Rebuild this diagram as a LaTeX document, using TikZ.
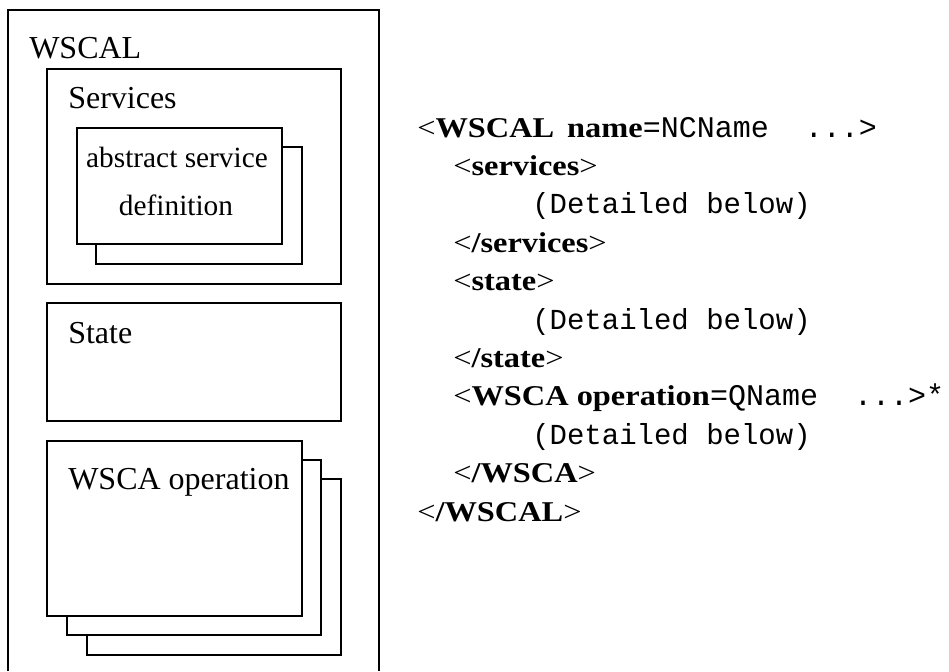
\documentclass[tikz,border=0pt]{standalone}
\usepackage{fontspec}
\setmainfont{Liberation Serif}
\setmonofont{Liberation Mono}
\newfontfamily\codefont[FakeStretch=1.13]{Liberation Serif}
\newcommand\codemono{\fontsize{21.75}{26}\selectfont\ttfamily}
\newcommand\inlinemono{\fontsize{22.5}{26}\selectfont\ttfamily}
\begin{document}
\begin{tikzpicture}[x=0.75pt,y=-0.75pt,
  frame/.style={draw=black,line width=0.9pt,fill=white},
  lbl/.style={anchor=base west,inner sep=0pt,font=\fontsize{24}{28}\selectfont},
  sub/.style={anchor=base,inner sep=0pt,font=\fontsize{22}{26}\selectfont},
  code/.style={anchor=base west,inner sep=0pt,font=\codefont\fontsize{21.5}{26}\selectfont}]
\useasboundingbox (0,0) rectangle (949,671);
% outer frame (cut off at the bottom)
\draw[line width=0.9pt] (8,671) -- (8,10) -- (379,10) -- (379,671);
\node[lbl] (wscal) at (29,58) {WSCAL};
% services
\draw[frame] (47,69) rectangle (341,284);
\node[lbl] (services) at (68,108) {Services};
\draw[frame] (96,147) rectangle (302,264);
\draw[frame] (77,128) rectangle (282,244);
\node[sub] (abs1) at (177,167) {abstract service};
\node[sub] (abs2) at (176,215) {definition};
% state
\draw[frame] (47,303) rectangle (341,421);
\node[lbl] (state) at (68,343) {State};
% operations
\draw[frame] (87,479) rectangle (341,655);
\draw[frame] (67,460) rectangle (321,635);
\draw[frame] (47,441) rectangle (302,616);
\node[lbl] (wsca) at (68,489) {WSCA operation};
% code
\node[code] (c1) at (417,137) {<\textbf{WSCAL}\hspace{0.45em}\textbf{name}{\inlinemono =NCName\ \ ...>}};
\node[code] (c2) at (453,175.4) {<\textbf{services}>};
\node[code] (c3) at (532,213.8) {\codemono (Detailed below)};
\node[code] (c4) at (453,252.2) {<\textbf{/services}>};
\node[code] (c5) at (453,290.6) {<\textbf{state}>};
\node[code] (c6) at (532,329) {\codemono (Detailed below)};
\node[code] (c7) at (453,367.4) {<\textbf{/state}>};
\node[code] (c8) at (453,405.8) {<\textbf{WSCA operation}{\inlinemono =QName\ \ ...>*}};
\node[code] (c9) at (532,444.2) {\codemono (Detailed below)};
\node[code] (c10) at (453,482.6) {<\textbf{/WSCA}>};
\node[code] (c11) at (417,521) {<\textbf{/WSCAL}>};
\end{tikzpicture}
\end{document}
